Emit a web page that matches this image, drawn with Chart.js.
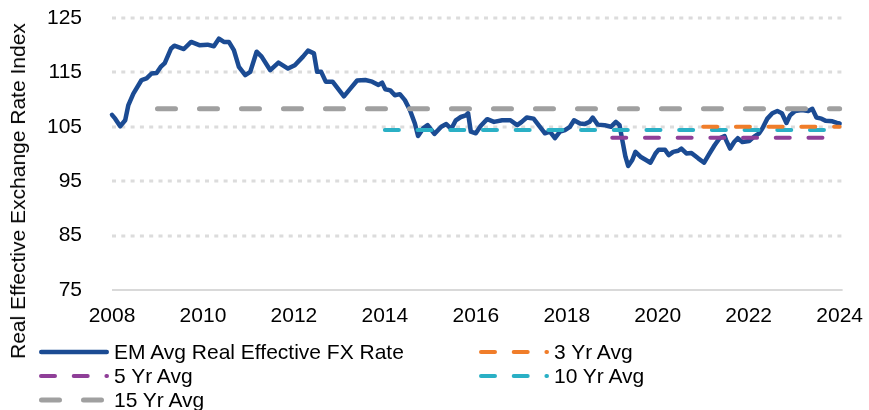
<!DOCTYPE html>
<html><head><meta charset="utf-8">
<script src="https://cdn.jsdelivr.net/npm/chart.js@4.4.1/dist/chart.umd.min.js"></script>
<style>
html,body{margin:0;padding:0;background:#fff;}
#wrap{position:relative;width:869px;height:410px;overflow:hidden;font-family:"Liberation Sans",Arial,sans-serif;color:#000;}
#c{position:absolute;left:0;top:0;}
#ytitle{position:absolute;left:18px;top:191px;transform:translate(-50%,-50%) rotate(-90deg);white-space:nowrap;font-size:21px;}
.lg{position:absolute;display:flex;align-items:center;font-size:21px;white-space:nowrap;height:24px;}
.lg svg{margin-right:5px;flex:none;}
</style></head><body>
<div id="wrap"><canvas id="c" width="869" height="410"></canvas><div id="ytitle">Real Effective Exchange Rate Index</div><div id="legend"></div></div>
<script>
// ---- data ----
const emLabel = 'EM Avg Real Effective FX Rate';
const emDates = [2008.00,2008.07,2008.18,2008.29,2008.36,2008.47,2008.65,2008.76,2008.87,2008.98,
2009.07,2009.16,2009.30,2009.37,2009.58,2009.74,2009.92,2010.10,2010.24,2010.35,2010.46,2010.57,2010.68,2010.79,2010.93,
2011.04,2011.18,2011.29,2011.48,2011.66,2011.87,2012.02,2012.20,2012.31,2012.44,2012.51,2012.60,2012.70,2012.85,
2013.10,2013.25,2013.39,2013.57,2013.72,2013.86,2013.94,2014.01,2014.12,2014.22,2014.33,2014.44,2014.55,2014.66,2014.73,2014.84,2014.94,
2015.09,2015.24,2015.35,2015.46,2015.56,2015.67,2015.78,2015.83,2015.89,2016.00,2016.11,2016.25,2016.40,2016.58,2016.76,2016.91,
2017.01,2017.12,2017.27,2017.41,2017.52,2017.63,2017.74,2017.85,2017.96,2018.07,2018.16,2018.29,2018.39,2018.50,2018.57,2018.68,2018.83,2018.97,
2019.08,2019.16,2019.22,2019.29,2019.35,2019.44,2019.51,2019.62,2019.76,2019.84,2019.95,2020.02,2020.16,2020.24,2020.34,2020.45,2020.52,2020.63,2020.74,2020.89,
2021.02,2021.14,2021.25,2021.36,2021.47,2021.50,2021.59,2021.68,2021.76,2021.86,2022.01,2022.12,2022.23,2022.30,2022.41,2022.52,2022.63,2022.73,2022.83,2022.91,
2023.02,2023.17,2023.31,2023.40,2023.49,2023.60,2023.69,2023.84,2023.94,2024.00];
const emValues = [107.2,106.5,105.1,106.2,109.0,111.1,113.6,113.9,114.8,114.9,
116.0,116.7,119.4,119.9,119.3,120.6,120.0,120.1,119.8,121.2,120.6,120.6,119.1,116.0,114.5,
115.1,118.8,117.9,115.4,116.8,115.7,116.3,117.9,119.0,118.5,115.1,115.1,113.3,113.3,
110.6,112.1,113.5,113.6,113.3,112.7,113.1,111.9,111.7,110.8,111.0,109.9,108.1,105.6,103.3,104.7,105.3,
103.7,105.0,105.5,104.6,106.2,106.8,107.1,107.5,104.1,103.8,105.2,106.4,105.9,106.2,106.2,105.3,
105.9,106.7,106.5,105.0,103.8,104.1,102.9,104.1,104.4,105.0,106.2,105.6,105.5,105.9,106.7,105.4,105.3,105.0,
105.9,105.3,102.6,99.5,97.8,98.9,100.4,99.5,98.8,98.4,100.1,100.8,100.8,99.8,100.4,100.6,101.0,100.1,100.2,99.2,
98.4,100.1,101.6,102.9,103.3,102.6,101.0,102.2,102.9,102.2,102.4,103.2,103.8,104.7,106.5,107.5,107.9,107.5,105.7,107.1,
107.9,108.1,107.9,108.3,106.7,106.5,106.1,106.0,105.7,105.6];
const avgLabels = ['3 Yr Avg','5 Yr Avg','10 Yr Avg','15 Yr Avg'];
const avgValues = [105.0, 103.0, 104.4, 108.3];
const avgStarts = [2021.0, 2019.0, 2014.0, 2009.0];
const avgEnd = 2024.0;
const xTicks = [2008,2010,2012,2014,2016,2018,2020,2022,2024];
const yTicks = [75,85,95,105,115,125];

// ---- styles ----
const avgColors = ['#f07d2a','#8f3f98','#2ab0c5','#a0a0a0'];
const avgWidths = [4,4,4,5];
const avgDash = [[14,18.7],[14,18.7],[14,18.7],[18,24]];
const emColor = '#1b4b93';

const datasets = [{
  label: emLabel,
  data: emDates.map((d,i)=>({x:d,y:emValues[i]})),
  borderColor: emColor, borderWidth: 4.5, pointRadius: 0, tension: 0,
  borderJoinStyle: 'round', borderCapStyle: 'round', order: 10, clip: false
}];
avgLabels.forEach((lab,i)=>{
  datasets.push({
    label: lab,
    data: [{x:avgStarts[i],y:avgValues[i]},{x:avgEnd,y:avgValues[i]}],
    borderColor: avgColors[i], borderWidth: avgWidths[i], borderDash: avgDash[i],
    borderCapStyle: 'round', pointRadius: 0, order: i, clip: false
  });
});

const gridPlugin = {
  id: 'dotGrid',
  beforeDatasetsDraw(chart){
    const {ctx, chartArea:a, scales:{y}} = chart;
    ctx.save();
    yTicks.forEach((v,i)=>{
      const py = Math.round(y.getPixelForValue(v));
      ctx.beginPath();
      if(i===0){ ctx.setLineDash([]); ctx.lineWidth = 2; ctx.strokeStyle = '#d9d9d9'; }
      else { ctx.setLineDash([4,5.3]); ctx.lineWidth = 3; ctx.strokeStyle = '#dcdcdc'; }
      ctx.moveTo(a.left, py); ctx.lineTo(a.right + 3, py); ctx.stroke();
    });
    ctx.restore();
  }
};

const tickFont = {family:'"Liberation Sans", Arial, sans-serif', size:21};
new Chart(document.getElementById('c'), {
  type: 'line',
  data: {datasets},
  options: {
    responsive: false, animation: false,
    layout: {padding: {top: 18, bottom: 80, left: 0, right: 0}},
    plugins: {legend: {display: false}, tooltip: {enabled: false}},
    scales: {
      x: {type:'linear', min:2008, max:2024,
          afterBuildTicks: s => { s.ticks = xTicks.map(v=>({value:v})); },
          afterFit: s => { s.height = 40; },
          ticks: {callback: v => String(v), font: tickFont, color:'#000', padding: 6, maxRotation: 0},
          grid: {display:false}, border: {display:false}},
      y: {min:75, max:125,
          afterBuildTicks: s => { s.ticks = yTicks.map(v=>({value:v})); },
          afterFit: s => { s.width = 112; s.paddingTop = 0; s.paddingBottom = 0; },
          ticks: {font: tickFont, color:'#000', padding: 22},
          grid: {display:false}, border: {display:false}}
    }
  },
  plugins: [gridPlugin]
});

// ---- legend (HTML) ----
const legendItems = [
  {label: emLabel, color: emColor, width: 4.5, dash: null, left: 39, top: 352},
  {label: avgLabels[0], color: avgColors[0], width: avgWidths[0], dash: avgDash[0], left: 479, top: 352},
  {label: avgLabels[1], color: avgColors[1], width: avgWidths[1], dash: avgDash[1], left: 39, top: 376},
  {label: avgLabels[2], color: avgColors[2], width: avgWidths[2], dash: avgDash[2], left: 479, top: 376},
  {label: avgLabels[3], color: avgColors[3], width: avgWidths[3], dash: avgDash[3], left: 39, top: 400}
];
const lg = document.getElementById('legend');
legendItems.forEach(it=>{
  const d = document.createElement('div');
  d.className = 'lg';
  d.style.left = it.left + 'px';
  d.style.top = (it.top - 12) + 'px';
  const w = 70, h = 10, lw = it.width;
  const dashAttr = it.dash ? ` stroke-dasharray="${it.dash.join(' ')}"` : '';
  d.innerHTML = `<svg width="${w}" height="${h}" viewBox="0 0 ${w} ${h}"><line x1="${lw/2}" y1="${h/2}" x2="${w-lw/2}" y2="${h/2}" stroke="${it.color}" stroke-width="${lw}" stroke-linecap="round"${dashAttr}/></svg>`;
  const s = document.createElement('span');
  s.textContent = it.label;
  d.appendChild(s);
  lg.appendChild(d);
});
</script>
</body></html>
